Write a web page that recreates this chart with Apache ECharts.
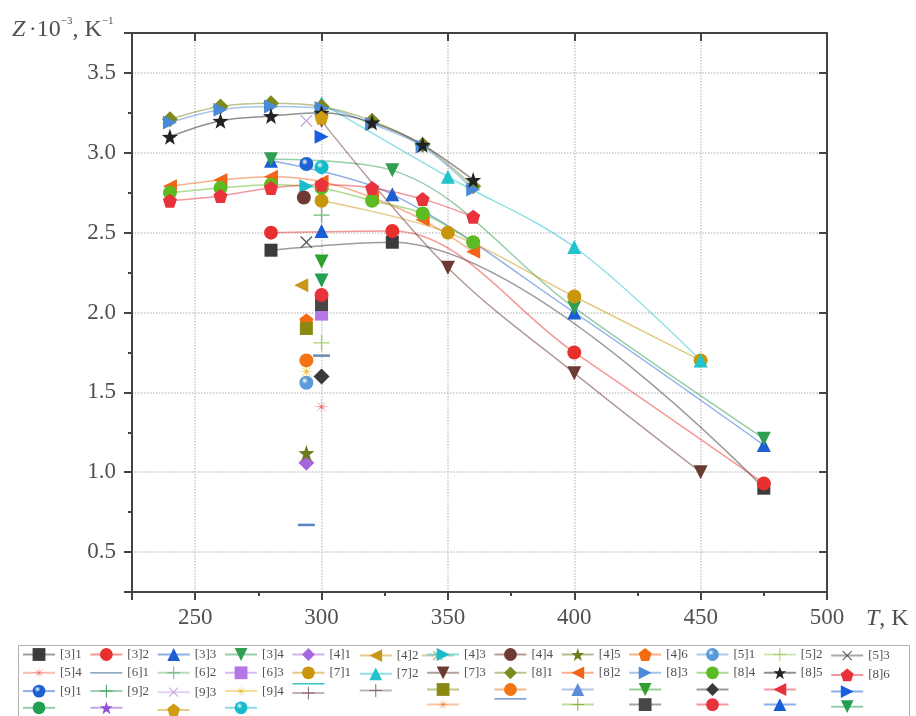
<!DOCTYPE html>
<html><head><meta charset="utf-8">
<script src="https://cdn.jsdelivr.net/npm/echarts@6/dist/echarts.min.js"></script>
<style>html,body{margin:0;padding:0;background:#fff}#c{width:916px;height:716px}</style>
</head><body><div id="c"></div>
<script>
// ---------- DATA (T in K, Z·10^3 in 1/K) ----------
const legendLabels = [
  '[3]1','[3]2','[3]3','[3]4','[4]1','[4]2','[4]3','[4]4','[4]5','[4]6','[5]1','[5]2','[5]3',
  '[5]4','[6]1','[6]2','[6]3','[7]1','[7]2','[7]3','[8]1','[8]2','[8]3','[8]4','[8]5','[8]6',
  '[9]1','[9]2','[9]3','[9]4','','','','','','','','','',
  '','','','','','','','','','','','',''
];
const r3_1 = [[280,2.39],[328,2.44],[475,0.90]];
const r3_2 = [[280,2.50],[328,2.51],[400,1.75],[475,0.93]];
const r3_3 = [[280,2.95],[328,2.74],[400,2.00],[475,1.17]];
const r3_4 = [[280,2.96],[328,2.89],[400,2.03],[475,1.21]];
const r4_1 = [[294,1.06]];
const r4_2 = [[292,2.17]];
const r4_3 = [[294,2.79]];
const r4_4 = [[293,2.72]];
const r4_5 = [[294,1.12]];
const r4_6 = [[294,1.95]];
const r5_1 = [[294,1.56]];
const r5_2 = [[300,1.81]];
const r5_3 = [[294,2.44]];
const r5_4 = [[300,1.41]];
const r6_1 = [[300,1.73]];
const r6_2 = [[300,2.61]];
const r6_3 = [[300,1.99]];
const r7_1 = [[300,2.70],[350,2.50],[400,2.10],[450,1.70]];
const r7_2 = [[300,3.31],[350,2.85],[400,2.41],[450,1.70]];
const r7_3 = [[300,3.20],[350,2.28],[400,1.62],[450,1.00]];
const r8_1 = [[240,3.21],[260,3.29],[280,3.31],[300,3.29],[320,3.20],[340,3.05],[360,2.79]];
const r8_2 = [[240,2.79],[260,2.83],[280,2.85],[300,2.82],[320,2.72],[340,2.58],[360,2.38]];
const r8_3 = [[240,3.19],[260,3.27],[280,3.29],[300,3.28],[320,3.18],[340,3.04],[360,2.77]];
const r8_4 = [[240,2.75],[260,2.78],[280,2.80],[300,2.78],[320,2.70],[340,2.62],[360,2.44]];
const r8_5 = [[240,3.10],[260,3.20],[280,3.23],[300,3.25],[320,3.19],[340,3.05],[360,2.83]];
const r8_6 = [[240,2.70],[260,2.73],[280,2.78],[300,2.80],[320,2.78],[340,2.71],[360,2.60]];
const r9_1 = [[294,2.93]];
const r9_2 = [];
const r9_3 = [[294,3.20]];
const r9_4 = [[294,1.63]];
const u01 = [], u02 = [], u03 = [[294,1.90]], u04 = [[294,1.70]], u05 = [], u06 = [[300,2.32]];
const u07 = [[300,1.60]], u08 = [], u09 = [[300,3.10]];
const u10 = [], u11 = [], u12 = [[300,3.22]], u13 = [[300,2.91]], u14 = [], u15 = [], u16 = [];
const u17 = [[294,0.67]], u18 = [], u19 = [[300,2.05]], u20 = [[300,2.11]], u21 = [[300,2.51]], u22 = [[300,2.20]];
const seriesData = [r3_1,r3_2,r3_3,r3_4,r4_1,r4_2,r4_3,r4_4,r4_5,r4_6,r5_1,r5_2,r5_3,
  r5_4,r6_1,r6_2,r6_3,r7_1,r7_2,r7_3,r8_1,r8_2,r8_3,r8_4,r8_5,r8_6,
  r9_1,r9_2,r9_3,r9_4,u01,u02,u03,u04,u05,u06,u07,u08,u09,
  u10,u11,u12,u13,u14,u15,u16,u17,u18,u19,u20,u21,u22];
const xRange = [225, 500];
const yRange = [0.25, 3.75];

// ---------- STYLES ----------
function polyPath(pts){return 'path://M'+pts.map(p=>p[0].toFixed(2)+','+p[1].toFixed(2)).join(' L')+' Z';}
function starPts(n, ro, ri){const a=[];for(let i=0;i<2*n;i++){const r=i%2?ri:ro;const t=-Math.PI/2+i*Math.PI/n;a.push([50+r*Math.cos(t),50+r*Math.sin(t)]);}return a;}
const PLUS = 'path://M46,0 L54,0 L54,46 L100,46 L100,54 L54,54 L54,100 L46,100 L46,54 L0,54 L0,46 L46,46 Z';
const SYM = {
  sq:['rect',0], ci:['circle',0], tu:['triangle',0], td:['triangle',180], tl:['triangle',90], tr:['triangle',-90],
  di:['diamond',0], st:[polyPath(starPts(5,50,20)),0], pe:[polyPath(starPts(5,50,40.5).filter((p,i)=>i%2===0)),0],
  ball:['circle',0], plus:[PLUS,0], x:[PLUS,45],
  ast:[polyPath(starPts(8,50,7)),0], dash:['rect',0]
};
const styleList = [
  ['sq','#3b3b3b'],['ci','#e8312f'],['tu','#1d5fd3'],['td','#2e9e50'],['di','#a865e0'],['tl','#c9981a'],['tr','#18bccb'],
  ['ci','#6e3a33'],['st','#6f7a1c'],['pe','#f26a12'],['ball','#5a9ad8'],['plus','#a6d46a'],['x','#555555'],
  ['ast','#f07a6a'],['dash','#6a8cb0'],['plus','#70b878'],['sq','#b575e6'],['ci','#c8960c'],['tu','#22c4cc'],
  ['td','#6a3b32'],['di','#7c8a1e'],['tl','#f26418'],['tr','#4b8ad6'],['ci','#5cba22'],['st','#222222'],['pe','#e8323c'],
  ['ball','#1c62d2'],['plus','#3fa060'],['x','#c4a6e6'],['ast','#e4c038'],['dash','#3ec4c4'],['plus','#8a6a6a'],
  ['sq','#8a8a12'],['ci','#f27414'],['tu','#5b8ed6'],['td','#2ea02e'],['di','#3a3a3a'],['tl','#e8323c'],['tr','#1a5ee0'],
  ['ci','#22a052'],['st','#9250d6'],['pe','#d09c12'],['ball','#12bccb'],['plus','#8a6272'],['x','#a4a456'],
  ['ast','#f28a48'],['dash','#5a84c6'],['plus','#86b842'],['sq','#474747'],['ci','#e8323c'],['tu','#1a5ed6'],['td','#22a052']
];
const FONT = 'Liberation Serif';
const TXT = '#505050';

const names = legendLabels.map((l,i)=> l || ('\u200b#'+i));
const series = seriesData.map((d,i)=>{
  const [k,col] = styleList[i];
  const [sym,rot] = SYM[k];
  let size = 14;
  if (k==='dash') size=[17,2.5];
  if (k==='plus'||k==='x'||k==='ast'||k==='st'||k==='di') size=16;
  if (k==='sq') size=13;
  let fill = col;
  if (k==='ball') fill = {type:'radial',x:0.38,y:0.35,r:0.65,colorStops:[{offset:0,color:'#ffffff'},{offset:0.35,color:col},{offset:1,color:col}]};
  return {
    type:'line', name:names[i], data:d, symbol:sym, symbolRotate:rot, symbolSize:size,
    showSymbol:true, smooth:0.35, animation:false,
    itemStyle:{color:fill, opacity:1},
    lineStyle:{color:col, width:1.5, opacity:0.5},
    emphasis:{disabled:true}
  };
});

const legends = [];
for (let c=0;c<13;c++){
  const data=[];
  for (let r=0;r<4;r++) {
    const i = r*13+c;
    if (styleList[i][0]==='dash') data.push({name:names[i], icon:'path://M0,48 L100,48 L100,52 L0,52 Z'});
    else data.push(names[i]);
  }
  legends.push({
    orient:'vertical', left: 22 + 67.35*c, top: 646.5, padding:0,
    itemWidth:32, itemHeight:16, itemGap:2.3, selectedMode:false,
    data, formatter: n => n.indexOf('\u200b#')===0 ? '' : n,
    textStyle:{fontFamily:FONT, fontSize:13, color:TXT, lineHeight:16}
  });
}

const axisLineStyle = {color:'#444', width:2};
const option = {
  backgroundColor:'#fff',
  animation:false,
  grid:{left:132, right:89, top:33, bottom:124, containLabel:false, outerBoundsMode:'none'},
  xAxis:[
    {type:'value', position:'bottom', min:xRange[0], max:xRange[1], splitNumber:6,
     axisLine:{show:true, onZero:false, lineStyle:axisLineStyle},
     axisTick:{show:true, inside:false, length:8, lineStyle:axisLineStyle},
     axisLabel:{show:true, margin:14, formatter:v=> (v%50===0? String(v):''), fontFamily:FONT, fontSize:23, color:TXT},
     splitLine:{show:true, lineStyle:{color:'#c8c8c8', type:'dotted', width:1.5}}},
    {type:'value', position:'bottom', min:xRange[0], max:xRange[1], interval:25,
     axisLine:{show:false, onZero:false}, axisTick:{show:true, length:4, lineStyle:axisLineStyle},
     axisLabel:{show:false}, splitLine:{show:false}},
    {type:'value', position:'top', min:xRange[0], max:xRange[1], splitNumber:6,
     axisLine:{show:true, onZero:false, lineStyle:axisLineStyle},
     axisTick:{show:true, inside:true, length:8, lineStyle:axisLineStyle},
     axisLabel:{show:false}, splitLine:{show:false}}
  ],
  yAxis:[
    {type:'value', position:'left', min:yRange[0], max:yRange[1], splitNumber:7,
     axisLine:{show:true, onZero:false, lineStyle:axisLineStyle},
     axisTick:{show:true, inside:false, length:8, lineStyle:axisLineStyle},
     axisLabel:{show:true, margin:16, formatter:v=> (Math.abs(v*2-Math.round(v*2))<1e-6 ? v.toFixed(1) : ''), fontFamily:FONT, fontSize:23, color:TXT},
     splitLine:{show:true, lineStyle:{color:'#c8c8c8', type:'dotted', width:1.5}}},
    {type:'value', position:'left', min:yRange[0], max:yRange[1], interval:0.25,
     axisLine:{show:false, onZero:false}, axisTick:{show:true, length:4, lineStyle:axisLineStyle},
     axisLabel:{show:false}, splitLine:{show:false}},
    {type:'value', position:'right', min:yRange[0], max:yRange[1], splitNumber:7,
     axisLine:{show:true, onZero:false, lineStyle:axisLineStyle},
     axisTick:{show:true, inside:true, length:8, lineStyle:axisLineStyle},
     axisLabel:{show:false}, splitLine:{show:false}}
  ],
  legend: legends,
  graphic:[
    {type:'rect', z:-1, shape:{x:18.5, y:645.5, width:891, height:90}, style:{fill:'#fff', stroke:'#b0b0b0', lineWidth:1}},
    {type:'text', left:12, top:16, style:{
      text:'{i|Z} {n|·10}{s|−3}{n|, K}{s|−1}',
      rich:{
        i:{fontFamily:FONT, fontStyle:'italic', fontSize:24, fill:TXT, lineHeight:28},
        n:{fontFamily:FONT, fontSize:24, fill:TXT, lineHeight:28},
        s:{fontFamily:FONT, fontSize:11, fill:TXT, verticalAlign:'top', lineHeight:16}
      }}},
    {type:'text', left:866, top:607, style:{
      text:'{i|T}{n|, K}',
      rich:{
        i:{fontFamily:FONT, fontStyle:'italic', fontSize:24, fill:TXT},
        n:{fontFamily:FONT, fontSize:24, fill:TXT}
      }}}
  ],
  series
};
const chart = echarts.init(document.getElementById('c'), null, {renderer:'canvas'});
chart.setOption(option);
</script></body></html>
